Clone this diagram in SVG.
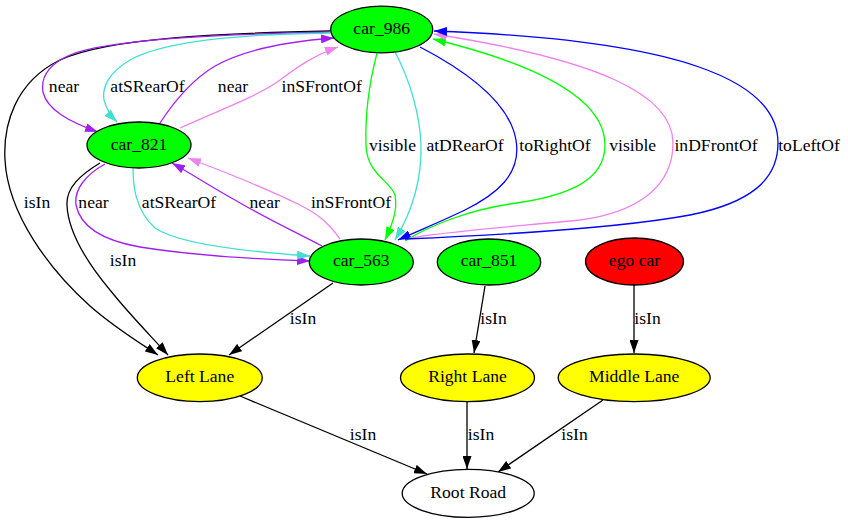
<svg xmlns="http://www.w3.org/2000/svg" width="848" height="523" viewBox="0 0 848 523" font-family="'Liberation Serif', 'Times New Roman', Times, 'DejaVu Serif', serif">
  <style>
    text { font-family: "Liberation Serif", "Times New Roman", Times, "DejaVu Serif", serif; font-size: 17.6px; fill: #000; text-anchor: middle; }
    .node ellipse { stroke: #000; stroke-width: 1.3; }
    .car { fill: #00ff00; }
    .ego { fill: #ff0000; }
    .lane { fill: #ffff00; }
    .road { fill: #ffffff; }
    .edge { fill: none; stroke-width: 1.3; }
    .k { stroke: #000000; }
    .p { stroke: #a020f0; }
    .t { stroke: #40e0d0; }
    .v { stroke: #ee82ee; }
    .g { stroke: #00ff00; }
    .b { stroke: #0000ff; }
  </style>
  <defs>
    <marker id="ak" viewBox="0 0 13 9" refX="13" refY="4.5" markerWidth="13" markerHeight="9" markerUnits="userSpaceOnUse" orient="auto"><path d="M0,0 L13,4.5 L0,9 z" fill="#000000"/></marker>
    <marker id="ap" viewBox="0 0 13 9" refX="13" refY="4.5" markerWidth="13" markerHeight="9" markerUnits="userSpaceOnUse" orient="auto"><path d="M0,0 L13,4.5 L0,9 z" fill="#a020f0"/></marker>
    <marker id="at" viewBox="0 0 13 9" refX="13" refY="4.5" markerWidth="13" markerHeight="9" markerUnits="userSpaceOnUse" orient="auto"><path d="M0,0 L13,4.5 L0,9 z" fill="#40e0d0"/></marker>
    <marker id="av" viewBox="0 0 13 9" refX="13" refY="4.5" markerWidth="13" markerHeight="9" markerUnits="userSpaceOnUse" orient="auto"><path d="M0,0 L13,4.5 L0,9 z" fill="#ee82ee"/></marker>
    <marker id="ag" viewBox="0 0 13 9" refX="13" refY="4.5" markerWidth="13" markerHeight="9" markerUnits="userSpaceOnUse" orient="auto"><path d="M0,0 L13,4.5 L0,9 z" fill="#00ff00"/></marker>
    <marker id="ab" viewBox="0 0 13 9" refX="13" refY="4.5" markerWidth="13" markerHeight="9" markerUnits="userSpaceOnUse" orient="auto"><path d="M0,0 L13,4.5 L0,9 z" fill="#0000ff"/></marker>
  </defs>

  <rect x="0" y="0" width="848" height="523" fill="#ffffff"/>

  <g id="edges">
    <!-- car_986 -> Left Lane -->
    <path class="edge k" marker-end="url(#ak)" d="M330,31 C230,33 110,37 60,60 C15,82 3,125 5,160 C8,215 50,270 90,306 C115,328 140,343 158,355"/>
    <!-- car_986 -> car_821 -->
    <path class="edge p" marker-end="url(#ap)" d="M330,32 C240,34 110,38 70,55 C45,66 41,80 43,92 C47,110 70,122 98,132"/>
    <path class="edge t" marker-end="url(#at)" d="M330,33 C260,34 170,38 130,60 C108,73 102,88 104,100 C106,108 110,115 117,122"/>
    <!-- car_821 -> car_986 -->
    <path class="edge p" marker-end="url(#ap)" d="M160,123 C175,100 195,78 215,66 C240,52 280,42 334,38"/>
    <path class="edge v" marker-end="url(#av)" d="M180,128 C220,110 260,95 280,80 C300,65 315,55 338,47"/>
    <!-- car_821 -> Left Lane -->
    <path class="edge k" marker-end="url(#ak)" d="M100,163 C80,175 66,188 67,205 C68,230 85,260 110,290 C130,315 150,335 168,355"/>
    <!-- car_821 -> car_563 -->
    <path class="edge p" marker-end="url(#ap)" d="M105,164 C85,175 74,190 76,205 C80,225 100,240 140,247 C190,255 250,259 310,261"/>
    <path class="edge t" marker-end="url(#at)" d="M133,168 C133,185 135,210 155,228 C180,245 250,252 310,256"/>
    <!-- car_563 -> car_821 -->
    <path class="edge p" marker-end="url(#ap)" d="M322,246 C295,232 260,215 235,200 C210,186 190,173 172,163"/>
    <path class="edge v" marker-end="url(#av)" d="M340,239 C330,225 320,215 300,205 C265,188 225,172 188,158"/>
    <!-- car_986 -> car_563 -->
    <path class="edge g" marker-end="url(#ag)" d="M377,53 C370,80 365,115 366,145 C367,175 390,180 395,195 C398,210 392,225 385,240"/>
    <path class="edge t" marker-end="url(#at)" d="M395,52 C410,80 420,115 421,145 C422,185 410,215 395,240"/>
    <path class="edge b" marker-end="url(#ab)" d="M420,47 C470,73 510,105 516,140 C522,175 495,195 465,210 C440,222 420,230 398,240"/>
    <!-- car_563 -> car_986 -->
    <path class="edge g" marker-end="url(#ag)" d="M405,241 C430,225 470,210 510,204 C570,196 605,180 605,145 C605,100 540,65 433,39"/>
    <path class="edge v" marker-end="url(#av)" d="M410,238 C440,232 520,226 580,220 C640,212 673,185 673,143 C673,95 600,60 434,34"/>
    <path class="edge b" marker-end="url(#ab)" d="M405,239 C500,235 620,228 690,215 C750,203 778,180 778,143 C778,80 680,40 434,31"/>
    <!-- lanes -->
    <path class="edge k" marker-end="url(#ak)" d="M333,283 L229,355"/>
    <path class="edge k" marker-end="url(#ak)" d="M485,286 L474,353"/>
    <path class="edge k" marker-end="url(#ak)" d="M634,285 L634,353"/>
    <!-- road -->
    <path class="edge k" marker-end="url(#ak)" d="M240,396 L427,474"/>
    <path class="edge k" marker-end="url(#ak)" d="M467,402 L467,469"/>
    <path class="edge k" marker-end="url(#ak)" d="M603,400 L498,472"/>

    <!-- edge labels -->
    <text x="64" y="92">near</text>
    <text x="147.5" y="92">atSRearOf</text>
    <text x="233" y="92">near</text>
    <text x="321.7" y="92">inSFrontOf</text>
    <text x="392.5" y="150.5">visible</text>
    <text x="465" y="150.5">atDRearOf</text>
    <text x="555" y="150.5">toRightOf</text>
    <text x="632.7" y="150.5">visible</text>
    <text x="716" y="150.5">inDFrontOf</text>
    <text x="809" y="150.5">toLeftOf</text>
    <text x="37" y="208">isIn</text>
    <text x="93.5" y="208">near</text>
    <text x="179" y="208">atSRearOf</text>
    <text x="264.7" y="208">near</text>
    <text x="351" y="208">inSFrontOf</text>
    <text x="123" y="266">isIn</text>
    <text x="303" y="324">isIn</text>
    <text x="493.5" y="324">isIn</text>
    <text x="647.5" y="324">isIn</text>
    <text x="363" y="440">isIn</text>
    <text x="481" y="440">isIn</text>
    <text x="574.5" y="440">isIn</text>
  </g>

  <g id="car_986" class="node">
    <ellipse class="car" cx="381.7" cy="29.5" rx="51" ry="23.3"/>
    <text x="381.7" y="34">car_986</text>
  </g>
  <g id="car_821" class="node">
    <ellipse class="car" cx="139" cy="145" rx="52" ry="23"/>
    <text x="139" y="150">car_821</text>
  </g>
  <g id="car_563" class="node">
    <ellipse class="car" cx="361.3" cy="262" rx="52" ry="23"/>
    <text x="361.3" y="266">car_563</text>
  </g>
  <g id="car_851" class="node">
    <ellipse class="car" cx="489" cy="262" rx="51.7" ry="23"/>
    <text x="489" y="266">car_851</text>
  </g>
  <g id="ego_car" class="node">
    <ellipse class="ego" cx="634.5" cy="261.5" rx="49" ry="23.5"/>
    <text x="634.5" y="266">ego car</text>
  </g>
  <g id="left_lane" class="node">
    <ellipse class="lane" cx="199.8" cy="377.8" rx="62.5" ry="23.8"/>
    <text x="199.8" y="382">Left Lane</text>
  </g>
  <g id="right_lane" class="node">
    <ellipse class="lane" cx="467.5" cy="377.8" rx="67" ry="23.8"/>
    <text x="467.5" y="382">Right Lane</text>
  </g>
  <g id="middle_lane" class="node">
    <ellipse class="lane" cx="634.2" cy="377.8" rx="76" ry="23.8"/>
    <text x="634.2" y="382">Middle Lane</text>
  </g>
  <g id="root_road" class="node">
    <ellipse class="road" cx="468.2" cy="493.3" rx="66" ry="24"/>
    <text x="468.2" y="498">Root Road</text>
  </g>
</svg>
